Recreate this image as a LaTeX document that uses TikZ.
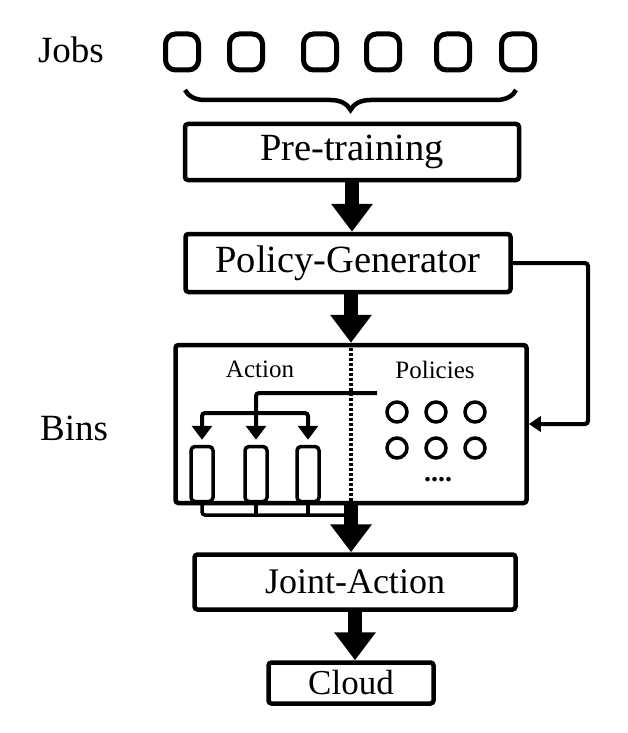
\documentclass[tikz,border=0pt]{standalone}
\usepackage{fontspec}
\setmainfont{Liberation Serif}
\usetikzlibrary{arrows.meta,decorations.pathreplacing}

\begin{document}
\begin{tikzpicture}[x=1pt,y=-1pt,
  box/.style={draw,line width=4.5pt,rounded corners=3pt,inner sep=0pt,font=\fontsize{36}{40}\selectfont},
  jobbox/.style={draw,line width=5pt,rounded corners=10pt,minimum width=33pt,minimum height=36pt,inner sep=0pt},
  binbox/.style={draw,line width=3.5pt,rounded corners=4pt,minimum width=22pt,minimum height=55pt,inner sep=0pt},
  polcircle/.style={draw,circle,line width=3.5pt,minimum size=20pt,inner sep=0pt},
  biglabel/.style={font=\fontsize{37}{40}\selectfont},
  smalllabel/.style={font=\fontsize{25}{28}\selectfont},
  bigarrow/.style={line width=14pt,-{Triangle[width=40pt,length=28pt]}},
  midarrow/.style={line width=4pt,rounded corners=3pt,-{Triangle[width=20pt,length=14pt]}},
  thinarrow/.style={line width=4pt,rounded corners=3pt,-{Triangle[width=15pt,length=12pt]}}]
  \useasboundingbox (0,0) rectangle (627,733);

  % the jobs
  \node[biglabel] (jobs) at (71,50) {Jobs};
  \foreach \x [count=\i] in {182,246,320,383,453,518}
    \node[jobbox] (j\i) at (\x,52) {};
  \draw[line width=4.5pt,decorate,decoration={brace,mirror,amplitude=20pt}] (185,90) -- (516,90);

  % the main chain
  \node[box,minimum width=334pt,minimum height=56pt,font=\fontsize{38.5}{40}\selectfont] (pre) at (352,152) {Pre-training};
  \node[box,minimum width=325pt,minimum height=58pt,font=\fontsize{38.5}{40}\selectfont] (gen) at (348,263) {Policy-Generator};
  \node[draw,line width=4.5pt,rounded corners=3pt,minimum width=351pt,minimum height=158pt] (bins) at (351,424) {};
  \node[box,minimum width=321pt,minimum height=55pt] (joint) at (355,582) {Joint-Action};
  \node[box,minimum width=165pt,minimum height=41pt,font=\fontsize{35}{40}\selectfont] (cloud) at (351,683) {Cloud};
  \node[biglabel] (binlabel) at (74,428) {Bins};

  % inside the bins
  \node[smalllabel] (act) at (260,369) {Action};
  \node[smalllabel] (pols) at (435,370) {Policies};
  \foreach \x [count=\i] in {202,256,308}
    \node[binbox] (b\i) at (\x,474) {};
  \foreach \x [count=\i] in {397,436,475} {
    \node[polcircle] (p\i) at (\x,412) {};
    \node[polcircle] (q\i) at (\x,448) {};
  }
  \node[font=\fontsize{28}{30}\selectfont\bfseries] (dots) at (438,480) {....};

  % the big arrows
  \draw[bigarrow] (pre.south) -- (pre.south |- gen.north);
  \draw[bigarrow] (bins.north |- gen.south) -- (bins.north);
  \draw[line width=3.5pt,dash pattern=on 3.5pt off 1.5pt] (bins.north) -- (bins.south);
  \draw[bigarrow] (bins.south) -- (bins.south |- joint.north);
  \draw[bigarrow] (joint.south) -- (joint.south |- cloud.north);

  % policies to the bins
  \coordinate (src) at (377,393);
  \coordinate (split) at (256,413);
  \draw[midarrow,shorten >=5pt] (src) -| (b2.north);
  \draw[midarrow,shorten >=5pt] (split) -| (b1.north);
  \draw[midarrow,shorten >=5pt] (split) -| (b3.north);

  % collect the bins
  \coordinate (join) at (351,515);
  \draw[line width=3.5pt,rounded corners=3pt] (b1.south) |- (join);
  \draw[line width=3.5pt] (b2.south) -- (b2.south |- join);
  \draw[line width=3.5pt] (b3.south) -- (b3.south |- join);

  % feedback
  \coordinate (fb) at (588,263);
  \draw[thinarrow] (gen.east) -- (fb) |- (bins.east);
\end{tikzpicture}
\end{document}
